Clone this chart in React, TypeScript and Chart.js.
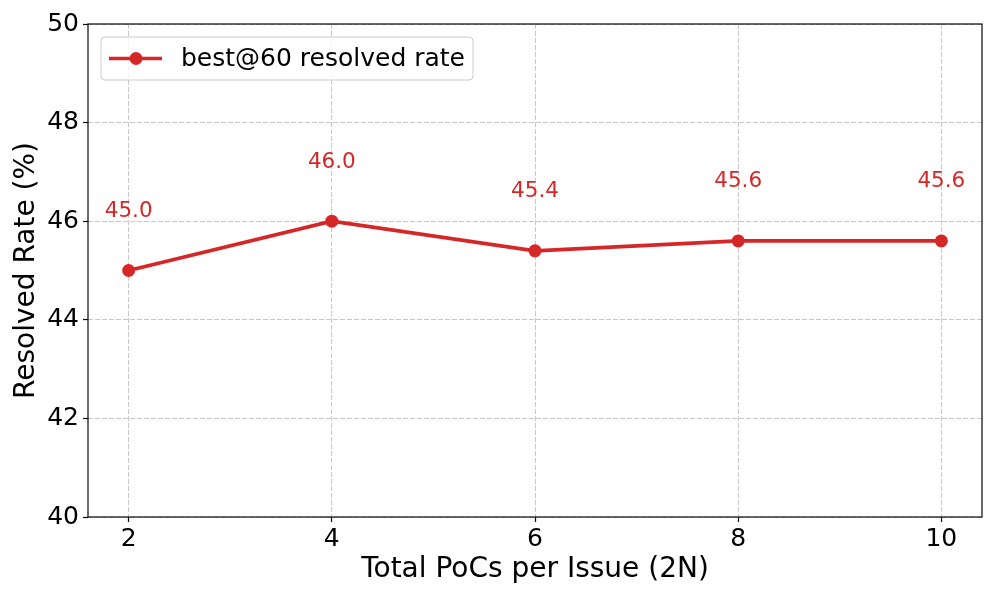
import React, { useEffect, useRef } from "react";
import { Chart, registerables } from "chart.js";

Chart.register(...registerables);

const categories = [2, 4, 6, 8, 10];
const resolvedRate = [45.0, 46.0, 45.4, 45.6, 45.6];
const yTicks = [40, 42, 44, 46, 48, 50];
const seriesLabel = "best@60 resolved rate";
const xTitle = "Total PoCs per Issue (2N)";
const yTitle = "Resolved Rate (%)";

const RED = "#d62728";
const FONT = "'DejaVu Sans', sans-serif";

const framePlugin = {
  id: "frame",
  afterDatasetsDraw(chart: any) {
    const { ctx, chartArea } = chart;
    ctx.save();
    ctx.strokeStyle = "#111";
    ctx.lineWidth = 1.25;
    ctx.strokeRect(chartArea.left, chartArea.top, chartArea.right - chartArea.left, chartArea.bottom - chartArea.top);
    ctx.restore();
  },
};

const labelPlugin = {
  id: "valueLabels",
  afterDatasetsDraw(chart: any) {
    const { ctx } = chart;
    const xs = chart.scales.x;
    const ys = chart.scales.y;
    ctx.save();
    ctx.fillStyle = RED;
    ctx.font = `21.5px ${FONT}`;
    ctx.textAlign = "center";
    ctx.textBaseline = "middle";
    categories.forEach((c, i) => {
      const v = resolvedRate[i];
      ctx.fillText(v.toFixed(1), xs.getPixelForValue(c), ys.getPixelForValue(v + 1.2));
    });
    ctx.restore();
  },
};

const legendPlugin = {
  id: "innerLegend",
  afterDraw(chart: any) {
    const { ctx, chartArea } = chart;
    const x = chartArea.left + 13;
    const y = chartArea.top + 13;
    const w = 372;
    const h = 43;
    ctx.save();
    ctx.beginPath();
    ctx.roundRect(x, y, w, h, 4);
    ctx.fillStyle = "rgba(255,255,255,0.8)";
    ctx.fill();
    ctx.strokeStyle = "#cccccc";
    ctx.lineWidth = 1;
    ctx.stroke();
    const cy = y + h / 2;
    ctx.beginPath();
    ctx.moveTo(x + 8, cy);
    ctx.lineTo(x + 61, cy);
    ctx.strokeStyle = RED;
    ctx.lineWidth = 3.5;
    ctx.stroke();
    ctx.beginPath();
    ctx.arc(x + 35, cy, 6.5, 0, Math.PI * 2);
    ctx.fillStyle = RED;
    ctx.fill();
    ctx.fillStyle = "#000";
    ctx.font = `25px ${FONT}`;
    ctx.textAlign = "left";
    ctx.textBaseline = "middle";
    ctx.fillText(seriesLabel, x + 80, cy + 1);
    ctx.restore();
  },
};

export default function App() {
  const ref = useRef<HTMLCanvasElement>(null);
  useEffect(() => {
    if (!ref.current) return;
    const chart = new Chart(ref.current, {
      type: "line",
      data: {
        datasets: [
          {
            label: seriesLabel,
            data: categories.map((c, i) => ({ x: c, y: resolvedRate[i] })),
            borderColor: RED,
            backgroundColor: RED,
            borderWidth: 3.8,
            pointRadius: 6.5,
            pointHoverRadius: 6.5,
            pointBackgroundColor: RED,
            pointBorderColor: RED,
            pointBorderWidth: 0,
            tension: 0,
          },
        ],
      },
      options: {
        animation: false,
        responsive: true,
        maintainAspectRatio: false,
        layout: { padding: { top: 24, right: 15, left: 0, bottom: 0 } },
        plugins: { legend: { display: false }, tooltip: { enabled: false } },
        scales: {
          x: {
            type: "linear",
            min: 1.6,
            max: 10.4,
            afterBuildTicks: (s: any) => {
              s.ticks = categories.map((v) => ({ value: v }));
            },
            afterFit: (s: any) => {
              s.height = 81;
            },
            ticks: { color: "#000", font: { family: FONT, size: 25 }, padding: 2 },
            grid: { color: "rgba(170,170,170,0.65)", lineWidth: 1, tickLength: 5, tickColor: "#111", tickWidth: 1.25 },
            border: { display: false, dash: [5, 2] },
            title: { display: true, text: xTitle, color: "#000", font: { family: FONT, size: 28 }, padding: { top: 0, bottom: 11 } },
          },
          y: {
            type: "linear",
            min: 40,
            max: 50,
            afterBuildTicks: (s: any) => {
              s.ticks = yTicks.map((v) => ({ value: v }));
            },
            afterFit: (s: any) => {
              s.width = 88;
            },
            ticks: { color: "#000", font: { family: FONT, size: 25 }, padding: 4 },
            grid: { color: "rgba(170,170,170,0.65)", lineWidth: 1, tickLength: 5, tickColor: "#111", tickWidth: 1.25 },
            border: { display: false, dash: [5, 2] },
            title: { display: true, text: yTitle, color: "#000", font: { family: FONT, size: 28 }, padding: { top: 10, bottom: 0 } },
          },
        },
      },
      plugins: [framePlugin, labelPlugin, legendPlugin],
    });
    return () => chart.destroy();
  }, []);
  return (
    <div style={{ position: "absolute", left: 0, top: 0, width: 997, height: 598, background: "#fff" }}>
      <canvas ref={ref} />
    </div>
  );
}
